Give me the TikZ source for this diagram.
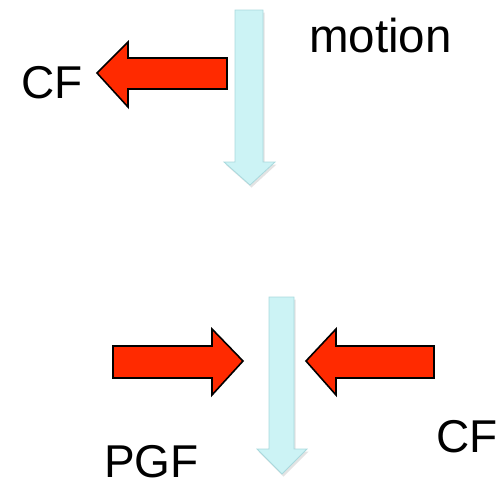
\documentclass[tikz,border=0pt]{standalone}
\usepackage{fontspec}
\setmainfont{Liberation Sans}
\usetikzlibrary{shadows}
\definecolor{flowfill}{HTML}{CCF3F5}
\definecolor{flowedge}{HTML}{A9D9DD}
\definecolor{forcered}{HTML}{FF2A00}
\tikzset{
  flow/.style={fill=flowfill, draw=flowedge, line width=0.8pt, line join=miter,
    drop shadow={shadow xshift=1.5pt, shadow yshift=-2.5pt, opacity=0.18, fill=black!60}},
  force/.style={fill=forcered, draw=black, line width=1.6pt, line join=miter},
  lbl/.style={font=\fontsize{46}{50}\selectfont, inner sep=0pt, anchor=base west}
}
\begin{document}
\begin{tikzpicture}[x=1pt, y=-1pt]
  \useasboundingbox (0,0) rectangle (497,483);

  % upper flow arrow (motion) and the centrifugal force pointing outward
  \path[flow] (235,10) -- (263,10) -- (263,162) -- (275,162) -- (250,185)
    -- (224,162) -- (235,162) -- cycle;
  \path[force] (97,73) -- (128,42) -- (128,58) -- (227,58) -- (227,89)
    -- (128,89) -- (128,107) -- cycle;

  % lower flow arrow with the two opposing forces
  \path[flow] (269,297) -- (294,297) -- (294,449) -- (307,449) -- (282,474)
    -- (257,449) -- (269,449) -- cycle;
  \path[force] (243,361) -- (212,329) -- (212,346) -- (113,346) -- (113,378)
    -- (212,378) -- (212,395) -- cycle;
  \path[force] (306,361) -- (336,329) -- (336,346) -- (434,346) -- (434,378)
    -- (336,378) -- (336,395) -- cycle;

  % labels
  \node[lbl, font=\fontsize{47.5}{50}\selectfont] (motion) at (309,52) {motion};
  \node[lbl] (cfa) at (21,98) {CF};
  \node[lbl] (cfb) at (436,452) {CF};
  \node[lbl] (pgf) at (104,477) {PGF};
\end{tikzpicture}
\end{document}
